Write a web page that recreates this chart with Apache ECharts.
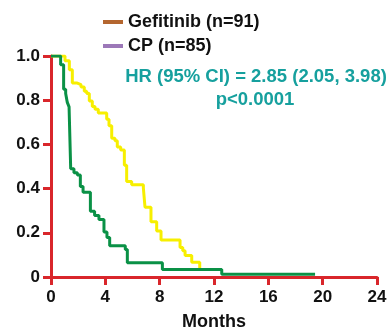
<!DOCTYPE html>
<html>
<head>
<meta charset="utf-8">
<script src="https://cdn.jsdelivr.net/npm/echarts@6/dist/echarts.min.js"></script>
<style>html,body{margin:0;padding:0;background:#fff}#c{width:390px;height:336px}</style>
</head>
<body>
<div id="c"></div>
<script>
var seriesNames = ['Gefitinib (n=91)', 'CP (n=85)'];
var legendColors = ['#b4662f', '#9c78b8'];
var xTicks = [0, 4, 8, 12, 16, 20, 24];
var yTicks = [0, 0.2, 0.4, 0.6, 0.8, 1.0];
var annotation = ['HR (95% CI) = 2.85 (2.05, 3.98)', 'p<0.0001'];
var xTitle = 'Months';

var gefMonths = [0, 1.03, 1.35, 1.57, 1.89, 2.21, 2.45, 2.63, 2.82, 3.04, 3.24, 3.48, 4.1, 4.27, 4.47, 4.71, 4.88, 5.13, 5.4, 5.57, 5.94, 6.8, 6.92, 7.36, 7.78, 8.1, 9.5, 9.7, 9.87, 10.36, 10.95];
var gefSurv   = [1, 0.979, 0.938, 0.878, 0.87, 0.86, 0.84, 0.83, 0.796, 0.771, 0.759, 0.742, 0.714, 0.684, 0.628, 0.617, 0.588, 0.575, 0.506, 0.432, 0.417, 0.402, 0.316, 0.25, 0.208, 0.167, 0.134, 0.119, 0.097, 0.067, 0.037];

var cpMonths = [0, 0.71, 0.93, 1.08, 1.2, 1.33, 1.45, 1.69, 1.94, 2.16, 2.36, 2.9, 3.21, 3.53, 3.9, 4.12, 4.32, 5.47, 5.62, 8.2, 12.57, 19.44];
var cpSurv   = [1, 0.96, 0.85, 0.83, 0.79, 0.77, 0.49, 0.472, 0.461, 0.409, 0.383, 0.298, 0.278, 0.26, 0.204, 0.179, 0.141, 0.124, 0.064, 0.034, 0.013, 0.013];

function pairs(xs, ys) { return xs.map(function (x, i) { return [x, ys[i]]; }); }

var FONT = 'Liberation Sans, Arial, sans-serif';
var RED = '#d9262b';
var chart = echarts.init(document.getElementById('c'), null, {renderer: 'canvas'});
var axisCommon = {
  axisLine: {show: true, lineStyle: {color: RED, width: 3}},
  axisTick: {show: true, inside: false, length: 8, lineStyle: {color: RED, width: 3}},
  splitLine: {show: false},
  axisLabel: {color: '#111', fontSize: 17, fontWeight: 'bold', fontFamily: FONT}
};
chart.setOption({
  animation: false,
  backgroundColor: '#fff',
  grid: {left: 51, right: 13, top: 56, bottom: 56, containLabel: false},
  legend: {
    orient: 'vertical', left: 98, top: 8, itemWidth: 20, itemHeight: 4, itemGap: 6,
    textStyle: {fontSize: 18, fontWeight: 'bold', fontFamily: FONT, color: '#111'},
    data: seriesNames.map(function (n, i) { return {name: n, icon: 'rect', itemStyle: {color: legendColors[i]}}; })
  },
  xAxis: Object.assign({}, axisCommon, {
    type: 'value', min: xTicks[0], max: xTicks[xTicks.length - 1], interval: 4,
    name: xTitle, nameLocation: 'middle', nameGap: 36,
    nameTextStyle: {fontSize: 18, fontWeight: 'bold', fontFamily: FONT, color: '#111'},
    axisLabel: Object.assign({}, axisCommon.axisLabel, {margin: 12})
  }),
  yAxis: Object.assign({}, axisCommon, {
    type: 'value', min: yTicks[0], max: yTicks[yTicks.length - 1], interval: 0.2,
    axisLabel: Object.assign({}, axisCommon.axisLabel, {margin: 11, formatter: function (v) { return v === 0 ? '0' : v.toFixed(1); }})
  }),
  graphic: [
    {type: 'text', x: 256, y: 77, style: {text: annotation[0], align: 'center', verticalAlign: 'middle', fontSize: 18.5, fontWeight: 'bold', fontFamily: FONT, fill: '#16a09e'}},
    {type: 'text', x: 255, y: 100, style: {text: annotation[1], align: 'center', verticalAlign: 'middle', fontSize: 18.5, fontWeight: 'bold', fontFamily: FONT, fill: '#16a09e'}}
  ],
  series: [
    {name: seriesNames[0], type: 'line', step: 'end', showSymbol: false, symbol: 'none', z: 2,
     lineStyle: {color: '#f7ef00', width: 3}, itemStyle: {color: '#f7ef00'}, data: pairs(gefMonths, gefSurv)},
    {name: seriesNames[1], type: 'line', step: 'end', showSymbol: false, symbol: 'none', z: 3,
     lineStyle: {color: '#0a9146', width: 3}, itemStyle: {color: '#0a9146'}, data: pairs(cpMonths, cpSurv)}
  ]
});
</script>
</body>
</html>
